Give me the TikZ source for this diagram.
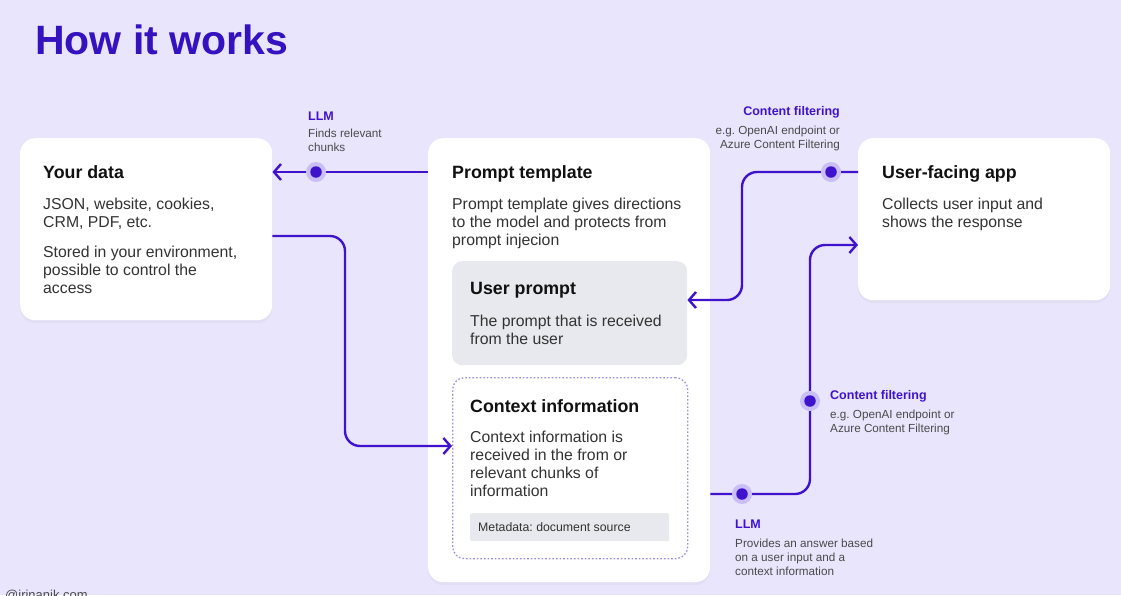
\documentclass[tikz,border=0pt]{standalone}
\usepackage{fontspec}
\setmainfont{Liberation Sans}
\usetikzlibrary{arrows.meta,shadows}
\definecolor{bgc}{HTML}{E9E5FC}
\definecolor{accent}{HTML}{3F13CC}
\definecolor{titlec}{HTML}{3512C0}
\definecolor{haloc}{HTML}{C9BEF5}
\definecolor{grayc}{HTML}{E8E9EE}
\definecolor{dotc}{HTML}{9D8DE2}
\definecolor{headc}{HTML}{111111}
\definecolor{bodyc}{HTML}{333333}
\definecolor{smallc}{HTML}{4A4A4A}
\frenchspacing
\begin{document}
\begin{tikzpicture}[x=1pt,y=-1pt,
  card/.style={fill=white, rounded corners=15pt, draw=none, anchor=north west, inner sep=0pt,
    drop shadow={shadow xshift=0pt, shadow yshift=-3pt, opacity=0.06}},
  graybox/.style={fill=grayc, rounded corners=10pt, draw=none, anchor=north west, inner sep=0pt},
  dotbox/.style={draw=dotc, dash pattern=on 1.6pt off 2pt, line width=1.3pt, rounded corners=12pt, anchor=north west, inner sep=0pt},
  head/.style={anchor=north west, inner sep=0pt, font=\fontsize{17.8}{20}\selectfont\bfseries, text=headc},
  body/.style={anchor=north west, inner sep=0pt, align=left, font=\fontsize{15.8}{18}\selectfont, text=bodyc},
  lblhead/.style={inner sep=0pt, font=\fontsize{12.5}{14}\selectfont\bfseries, text=accent},
  lblbody/.style={inner sep=0pt, font=\fontsize{11.7}{14}\selectfont, text=smallc},
  flow/.style={draw=accent, line width=2.4pt, rounded corners=15pt, -{Straight Barb[length=7pt,width=16pt,line width=2.4pt]}},
  halo/.style={circle, fill=haloc, inner sep=0pt, minimum size=20pt},
  dot/.style={circle, fill=accent, inner sep=0pt, minimum size=11.5pt}
]
\fill[bgc] (0,0) rectangle (1121,595);
\useasboundingbox (0,0) rectangle (1121,595);

% title
\node[anchor=north west, inner sep=0pt, font=\fontsize{41}{45}\selectfont\bfseries, text=titlec] (title) at (35,25) {How it works};
\node[anchor=north west, inner sep=0pt, font=\fontsize{13}{15}\selectfont, text=smallc] (credit) at (5,590) {@irinanik.com};

% cards
\node[card, minimum width=252pt, minimum height=182pt] (data) at (20,138) {};
\node[card, minimum width=282pt, minimum height=444pt] (prompt) at (428,138) {};
\node[card, minimum width=252pt, minimum height=162pt] (app) at (858,138) {};
\node[graybox, minimum width=235pt, minimum height=104pt] (userp) at (452,261) {};
\node[dotbox, minimum width=235pt, minimum height=181pt] (ctx) at (452,377) {};
\node[graybox, rounded corners=2pt, minimum width=199pt, minimum height=28pt] (meta) at (470,513) {};

% card texts
\node[head] (dataH) at (43,165.5) {Your data};
\node[body] (dataB1) at (43,198) {JSON, website, cookies,\\CRM, PDF, etc.};
\node[body] (dataB2) at (43,246) {Stored in your environment,\\possible to control the\\access};

\node[head] (promptH) at (452,165.5) {Prompt template};
\node[body] (promptB) at (452,198) {Prompt template gives directions\\to the model and protects from\\prompt injecion};

\node[head] (userpH) at (470,282.5) {User prompt};
\node[body] (userpB) at (470,315) {The prompt that is received\\from the user};

\node[head] (ctxH) at (470,399.5) {Context information};
\node[body] (ctxB) at (470,431) {Context information is\\received in the from or\\relevant chunks of\\information};
\node[anchor=west, inner sep=0pt, font=\fontsize{12.3}{14}\selectfont, text=bodyc] (metaT) at (478,527) {Metadata: document source};

\node[head] (appH) at (882,165.5) {User-facing app};
\node[body] (appB) at (882,198) {Collects user input and\\shows the response};

% connector labels
\node[lblhead, anchor=west] (llm1H) at (308,116) {LLM};
\node[lblbody, anchor=north west, align=left] (llm1B) at (308,128.5) {Finds relevant\\chunks};

\node[lblhead, anchor=east] (cf1H) at (840,112) {Content filtering};
\node[lblbody, anchor=north east, align=right] (cf1B) at (840,125.5) {e.g. OpenAI endpoint or\\Azure Content Filtering};

\node[lblhead, anchor=west] (cf2H) at (830,396) {Content filtering};
\node[lblbody, anchor=north west, align=left] (cf2B) at (830,409.5) {e.g. OpenAI endpoint or\\Azure Content Filtering};

\node[lblhead, anchor=west] (llm2H) at (735,524) {LLM};
\node[lblbody, anchor=north west, align=left] (llm2B) at (735,538.5) {Provides an answer based\\on a user input and a\\context information};

% turn coordinates
\coordinate (p1) at (316,172);
\coordinate (t1) at (345,236);
\coordinate (t2) at (345,446);
\coordinate (t3) at (742,172);
\coordinate (t4) at (742,300);
\coordinate (t5) at (810,494);
\coordinate (t6) at (810,245);

% connectors
\draw[flow] (prompt.west |- p1) -- (data.east |- p1);
\draw[flow] (data.east |- t1) -- (t1) -- (t2) -- (ctx.west |- t2);
\draw[flow] (app.west |- t3) -- (t3) -- (t4) -- (userp.east |- t4);
\draw[flow] (prompt.east |- t5) -- (t5) -- (t6) -- (app.west |- t6);

% dots
\node[halo] (h1) at (316,172) {};
\node[dot] (d1) at (h1) {};
\node[halo] (h2) at (831,172) {};
\node[dot] (d2) at (h2) {};
\node[halo] (h3) at (810,401) {};
\node[dot] (d3) at (h3) {};
\node[halo] (h4) at (742,494) {};
\node[dot] (d4) at (h4) {};
\end{tikzpicture}
\end{document}
